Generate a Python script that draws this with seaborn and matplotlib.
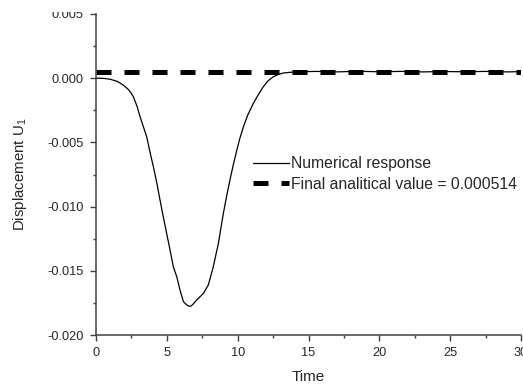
import matplotlib
matplotlib.use("Agg")
import matplotlib.pyplot as plt
import seaborn as sns
from matplotlib.ticker import MultipleLocator, FormatStrFormatter
from matplotlib.patches import Rectangle

# ---- data ----
time = [0, 0.5, 1.0, 1.5, 1.7, 1.93, 2.1, 2.3, 2.47, 2.64, 2.9, 3.11, 3.35,
        3.58, 3.8, 4.05, 4.3, 4.52, 4.75, 4.99, 5.23, 5.46, 5.70, 5.93, 6.17,
        6.40, 6.55, 6.69, 6.85, 7.11, 7.58, 7.93, 8.28, 8.64, 8.99, 9.2, 9.46,
        9.7, 9.94, 10.15, 10.4, 10.7, 11.1, 11.45, 11.8, 12.15, 12.5, 12.85,
        13.2, 13.7, 14.3, 15.5, 17, 18.5, 20, 21.5, 23, 24.5, 26, 27.5, 29, 30]
displacement = [0, -0.00001, -0.00008, -0.00025, -0.00038, -0.00054, -0.0007,
                -0.0009, -0.00115, -0.00145, -0.0022, -0.0030, -0.0038,
                -0.00457, -0.0057, -0.0069, -0.0082, -0.0095, -0.0108, -0.0121,
                -0.0134, -0.0147, -0.01546, -0.0165, -0.0174, -0.01766,
                -0.01775, -0.01776, -0.0176, -0.01727, -0.01676, -0.0161,
                -0.01468, -0.01286, -0.01053, -0.0093, -0.0079, -0.0067,
                -0.0056, -0.0047, -0.0038, -0.0029, -0.00197, -0.0013,
                -0.00068, -0.0002, 0.0001, 0.00028, 0.0004, 0.00046, 0.0005,
                0.00053, 0.00049, 0.00054, 0.0005, 0.00053, 0.00049, 0.00052,
                0.0005, 0.00053, 0.00049, 0.00051]
final_value = 0.000514
final_time = [0, 30]
final_disp = [final_value, final_value]
labels = ["Numerical response", "Final analitical value = 0.000514"]

sns.set_style("ticks")
plt.rcParams["font.family"] = ["Liberation Sans", "DejaVu Sans"]
plt.rcParams["mathtext.fontset"] = "custom"
plt.rcParams["mathtext.rm"] = "Liberation Sans"
plt.rcParams["mathtext.it"] = "Liberation Sans"

W, H = 523, 385
fig = plt.figure(figsize=(W / 100, H / 100), dpi=100)
ax = fig.add_axes([96 / W, 1 - 335 / H, 425 / W, 321 / H])

sns.lineplot(x=time, y=displacement, ax=ax, color="black", linewidth=0.9,
             label=labels[0])
sns.lineplot(x=final_time, y=final_disp, ax=ax, color="black", linewidth=3.6,
             label=labels[1])
ax.lines[-1].set_linestyle((0, (3.0, 2.6)))
ax.lines[-1].set_dash_capstyle("butt")

ax.set_xlim(0, 30)
ax.set_ylim(-0.020, 0.005)
ax.xaxis.set_major_locator(MultipleLocator(5))
ax.xaxis.set_minor_locator(MultipleLocator(2.5))
ax.yaxis.set_major_locator(MultipleLocator(0.005))
ax.yaxis.set_minor_locator(MultipleLocator(0.0025))
ax.yaxis.set_major_formatter(FormatStrFormatter("%.3f"))

sns.despine(ax=ax)
for s in ("left", "bottom"):
    ax.spines[s].set_linewidth(1.1)
    ax.spines[s].set_color("#404040")
ax.tick_params(which="major", length=4.3, width=1.0, color="#404040",
               labelsize=9.2, pad=4.5, direction="out")
ax.tick_params(which="minor", length=2.5, width=1.0, color="#404040",
               direction="out")

ax.set_xlabel("Time", fontsize=11, labelpad=8)
ax.set_ylabel("Displacement U$_{1}$", fontsize=10.8, labelpad=13)

ax.legend(loc="center left", bbox_to_anchor=(253 / W, 1 - 174 / H),
          bbox_transform=fig.transFigure, frameon=False, fontsize=11.3,
          handlelength=2.3, handletextpad=0.15, labelspacing=0.35,
          borderpad=0, borderaxespad=0)

# the reference image is cropped just above the top tick label
fig.patches.append(Rectangle((0, 1 - 11.5 / H), 1, 11.5 / H,
                             transform=fig.transFigure, facecolor="white",
                             edgecolor="none", zorder=10))

fig.savefig("out.png", dpi=100)
